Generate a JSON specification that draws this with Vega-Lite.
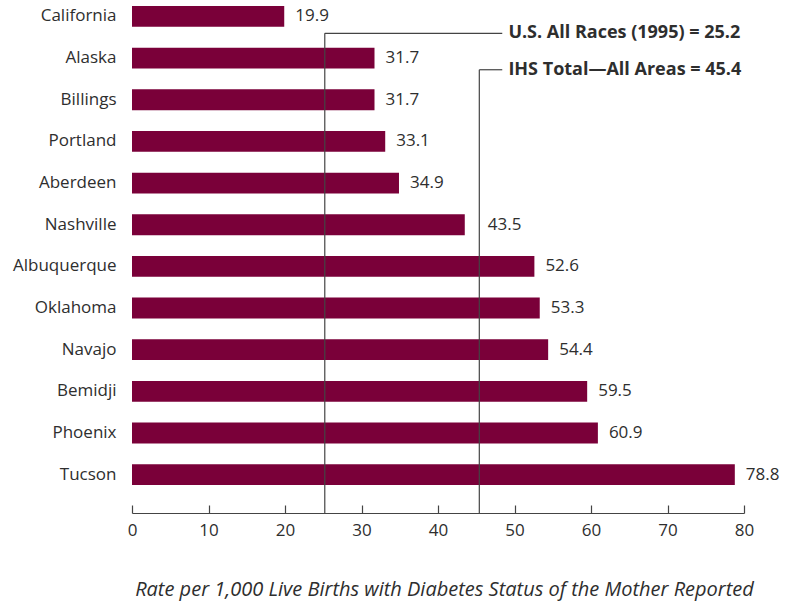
{
  "$schema": "https://vega.github.io/schema/vega-lite/v6.json",
  "width": 612,
  "height": 513,
  "autosize": {"type": "none"},
  "padding": {"left": 132, "top": 0, "right": 50, "bottom": 91},
  "background": "white",
  "config": {
    "view": {"stroke": null},
    "font": "Open Sans",
    "text": {"font": "Open Sans"}
  },
  "datasets": {
    "rates": [
      {"area": "California", "rate": 19.9},
      {"area": "Alaska", "rate": 31.7},
      {"area": "Billings", "rate": 31.7},
      {"area": "Portland", "rate": 33.1},
      {"area": "Aberdeen", "rate": 34.9},
      {"area": "Nashville", "rate": 43.5},
      {"area": "Albuquerque", "rate": 52.6},
      {"area": "Oklahoma", "rate": 53.3},
      {"area": "Navajo", "rate": 54.4},
      {"area": "Bemidji", "rate": 59.5},
      {"area": "Phoenix", "rate": 60.9},
      {"area": "Tucson", "rate": 78.8}
    ],
    "refs": [
      {"key": "us", "label": "U.S. All Races (1995) = 25.2", "value": 25.2, "area": "California"},
      {"key": "ihs", "label": "IHS Total\u2014All Areas = 45.4", "value": 45.4, "area": "Alaska"}
    ]
  },
  "layer": [
    {
      "data": {"name": "rates"},
      "mark": {"type": "bar", "color": "#7A0039"},
      "encoding": {
        "y": {
          "field": "area",
          "type": "nominal",
          "scale": {
            "domain": ["California", "Alaska", "Billings", "Portland", "Aberdeen", "Nashville", "Albuquerque", "Oklahoma", "Navajo", "Bemidji", "Phoenix", "Tucson"],
            "paddingInner": 0.5,
            "paddingOuter": 0.407,
            "align": 0.177
          },
          "axis": {
            "title": null,
            "domain": false,
            "ticks": false,
            "labelFont": "Open Sans",
            "labelFontSize": 17,
            "labelColor": "#2e2e2e",
            "labelPadding": 16
          }
        },
        "x": {
          "field": "rate",
          "type": "quantitative",
          "scale": {"domain": [0, 80], "nice": false},
          "axis": {
            "title": "Rate per 1,000 Live Births with Diabetes Status of the Mother Reported",
            "titleFont": "Open Sans",
            "titleFontStyle": "italic",
            "titleFontWeight": "normal",
            "titleFontSize": 20,
            "titleColor": "#2e2e2e",
            "titlePadding": 41,
            "titleX": 312,
            "values": [0, 10, 20, 30, 40, 50, 60, 70, 80],
            "grid": false,
            "domainColor": "#444444",
            "domainWidth": 1.2,
            "tickColor": "#444444",
            "tickWidth": 1.2,
            "tickSize": -8,
            "labelFont": "Open Sans",
            "labelFontSize": 17,
            "labelColor": "#2e2e2e",
            "labelPadding": 17,
            "labelFlush": false
          }
        }
      }
    },
    {
      "data": {"name": "rates"},
      "transform": [{"filter": "datum.area !== 'Nashville'"}],
      "mark": {"type": "text", "align": "left", "baseline": "middle", "dx": 11, "fontSize": 17, "color": "#2e2e2e", "font": "Open Sans"},
      "encoding": {
        "y": {"field": "area", "type": "nominal"},
        "x": {"field": "rate", "type": "quantitative"},
        "text": {"field": "rate", "type": "quantitative", "format": ".1f"}
      }
    },
    {
      "data": {"name": "rates"},
      "transform": [{"filter": "datum.area === 'Nashville'"}],
      "mark": {"type": "text", "align": "left", "baseline": "middle", "dx": 23, "fontSize": 17, "color": "#2e2e2e", "font": "Open Sans"},
      "encoding": {
        "y": {"field": "area", "type": "nominal"},
        "x": {"field": "rate", "type": "quantitative"},
        "text": {"field": "rate", "type": "quantitative", "format": ".1f"}
      }
    },
    {
      "data": {"name": "refs"},
      "transform": [{"filter": "datum.key === 'us'"}],
      "layer": [
        {
          "mark": {"type": "rule", "color": "#444444", "strokeWidth": 1.2},
          "encoding": {
            "x": {"field": "value", "type": "quantitative"},
            "y": {"field": "area", "type": "nominal", "bandPosition": 1.31},
            "y2": {"value": "height"}
          }
        },
        {
          "mark": {"type": "rule", "color": "#444444", "strokeWidth": 1.2},
          "encoding": {
            "x": {"field": "value", "type": "quantitative"},
            "x2": {"datum": 48.4},
            "y": {"field": "area", "type": "nominal", "bandPosition": 1.31}
          }
        },
        {
          "mark": {"type": "text", "align": "left", "baseline": "middle", "fontSize": 18, "fontWeight": "bold", "color": "#2e2e2e", "font": "Open Sans"},
          "encoding": {
            "x": {"datum": 49.2},
            "y": {"field": "area", "type": "nominal", "bandPosition": 1.31},
            "text": {"field": "label"}
          }
        }
      ]
    },
    {
      "data": {"name": "refs"},
      "transform": [{"filter": "datum.key === 'ihs'"}],
      "layer": [
        {
          "mark": {"type": "rule", "color": "#444444", "strokeWidth": 1.2},
          "encoding": {
            "x": {"field": "value", "type": "quantitative"},
            "y": {"field": "area", "type": "nominal", "bandPosition": 1.06},
            "y2": {"value": "height"}
          }
        },
        {
          "mark": {"type": "rule", "color": "#444444", "strokeWidth": 1.2},
          "encoding": {
            "x": {"field": "value", "type": "quantitative"},
            "x2": {"datum": 48.4},
            "y": {"field": "area", "type": "nominal", "bandPosition": 1.06}
          }
        },
        {
          "mark": {"type": "text", "align": "left", "baseline": "middle", "fontSize": 18, "fontWeight": "bold", "color": "#2e2e2e", "font": "Open Sans"},
          "encoding": {
            "x": {"datum": 49.2},
            "y": {"field": "area", "type": "nominal", "bandPosition": 1.06},
            "text": {"field": "label"}
          }
        }
      ]
    }
  ]
}
